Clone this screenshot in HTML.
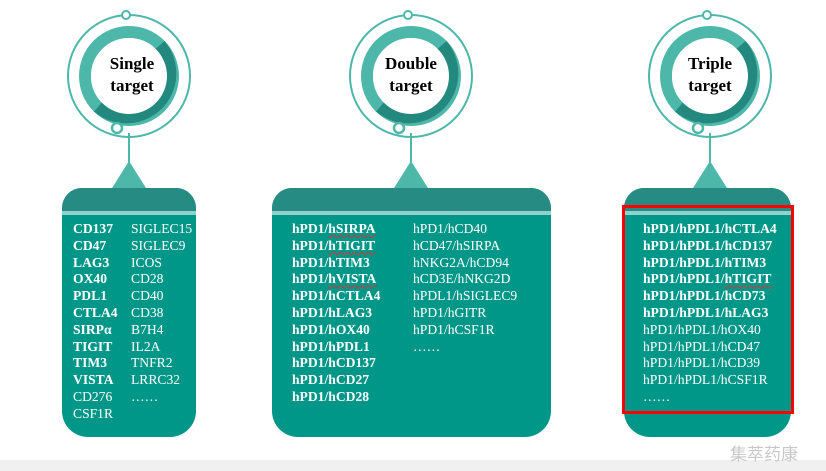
<!DOCTYPE html>
<html><head><meta charset="utf-8"><style>
body{margin:0;width:826px;height:471px;background:#fff;position:relative;overflow:hidden;font-family:"Liberation Serif",serif}
.box{position:absolute;top:188px;height:249px;background:#009688;border-radius:20px 20px 26px 26px;overflow:hidden}
.box .hd{position:absolute;left:0;right:0;top:0;height:23px;background:#268b83}
.box .st{position:absolute;left:0;right:0;top:23px;height:4px;background:#8fd1cb}
.col{position:absolute;top:33px;color:#fff;font-size:13.6px;line-height:16.8px;white-space:nowrap}
.col b{font-weight:bold}
.t{position:absolute;text-align:center;font-weight:bold;font-size:17px;line-height:22px;color:#000;width:100px}
.u{text-decoration:underline wavy #d33;text-decoration-thickness:1px}
</style></head><body>
<div style="position:absolute;left:0;top:460px;width:826px;height:11px;background:#f0f0f0"></div>
<svg width="826" height="200" style="position:absolute;left:0;top:0">
<g>
<circle cx="129" cy="76" r="61" fill="none" stroke="#4db8aa" stroke-width="2"/>
<circle cx="129" cy="76" r="44" fill="none" stroke="#4db8aa" stroke-width="12"/>
<path d="M160 45 A44 44 0 0 1 98 107" fill="none" stroke="#23897f" stroke-width="12"/>
<circle cx="129" cy="76" r="38" fill="#fff"/>
<circle cx="126" cy="15" r="4" fill="#fff" stroke="#4db8aa" stroke-width="2"/>
<circle cx="117" cy="128" r="5" fill="#fff" stroke="#4db8aa" stroke-width="2.5"/>
<line x1="129" y1="133" x2="129" y2="163" stroke="#4db8aa" stroke-width="2"/>
<path d="M129 161 L112 188 L146 188Z" fill="#4db8aa"/>
</g>
<g transform="translate(282,0)">
<circle cx="129" cy="76" r="61" fill="none" stroke="#4db8aa" stroke-width="2"/>
<circle cx="129" cy="76" r="44" fill="none" stroke="#4db8aa" stroke-width="12"/>
<path d="M160 45 A44 44 0 0 1 98 107" fill="none" stroke="#23897f" stroke-width="12"/>
<circle cx="129" cy="76" r="38" fill="#fff"/>
<circle cx="126" cy="15" r="4" fill="#fff" stroke="#4db8aa" stroke-width="2"/>
<circle cx="117" cy="128" r="5" fill="#fff" stroke="#4db8aa" stroke-width="2.5"/>
<line x1="129" y1="133" x2="129" y2="163" stroke="#4db8aa" stroke-width="2"/>
<path d="M129 161 L112 188 L146 188Z" fill="#4db8aa"/>
</g>
<g transform="translate(581,0)">
<circle cx="129" cy="76" r="61" fill="none" stroke="#4db8aa" stroke-width="2"/>
<circle cx="129" cy="76" r="44" fill="none" stroke="#4db8aa" stroke-width="12"/>
<path d="M160 45 A44 44 0 0 1 98 107" fill="none" stroke="#23897f" stroke-width="12"/>
<circle cx="129" cy="76" r="38" fill="#fff"/>
<circle cx="126" cy="15" r="4" fill="#fff" stroke="#4db8aa" stroke-width="2"/>
<circle cx="117" cy="128" r="5" fill="#fff" stroke="#4db8aa" stroke-width="2.5"/>
<line x1="129" y1="133" x2="129" y2="163" stroke="#4db8aa" stroke-width="2"/>
<path d="M129 161 L112 188 L146 188Z" fill="#4db8aa"/>
</g>
</svg>
<div class="t" style="left:82px;top:53px">Single<br>target</div>
<div class="t" style="left:361px;top:53px">Double<br>target</div>
<div class="t" style="left:660px;top:53px">Triple<br>target</div>

<div class="box" style="left:62px;width:134px"><div class="hd"></div><div class="st"></div>
<div class="col" style="left:11px"><b>CD137<br>CD47<br>LAG3<br>OX40<br>PDL1<br>CTLA4<br>SIRPα<br>TIGIT<br>TIM3<br>VISTA</b><br>CD276<br>CSF1R</div>
<div class="col" style="left:69px">SIGLEC15<br>SIGLEC9<br>ICOS<br>CD28<br>CD40<br>CD38<br>B7H4<br>IL2A<br>TNFR2<br>LRRC32<br>……</div>
</div>
<div class="box" style="left:272px;width:279px"><div class="hd"></div><div class="st"></div>
<div class="col" style="left:20px"><b>hPD1/<span class="u">hSIRPA</span><br>hPD1/<span class="u">hTIGIT</span><br>hPD1/hTIM3<br>hPD1/<span class="u">hVISTA</span><br>hPD1/hCTLA4<br>hPD1/hLAG3<br>hPD1/hOX40<br>hPD1/hPDL1<br>hPD1/hCD137<br>hPD1/hCD27<br>hPD1/hCD28</b></div>
<div class="col" style="left:141px">hPD1/hCD40<br>hCD47/hSIRPA<br>hNKG2A/hCD94<br>hCD3E/hNKG2D<br>hPDL1/hSIGLEC9<br>hPD1/hGITR<br>hPD1/hCSF1R<br>……</div>
</div>
<div class="box" style="left:624px;width:167px"><div class="hd"></div><div class="st"></div>
<div class="col" style="left:19px"><b>hPD1/hPDL1/hCTLA4<br>hPD1/hPDL1/hCD137<br>hPD1/hPDL1/hTIM3<br>hPD1/hPDL1/<span class="u">hTIGIT</span><br>hPD1/hPDL1/hCD73<br>hPD1/hPDL1/hLAG3</b><br>hPD1/hPDL1/hOX40<br>hPD1/hPDL1/hCD47<br>hPD1/hPDL1/hCD39<br>hPD1/hPDL1/hCSF1R<br>……</div>
</div>
<div style="position:absolute;left:622px;top:205px;width:166px;height:203px;border:3px solid #f00"></div>
<div style="position:absolute;left:730px;top:440px;color:#c8c8c8;font-family:'Noto Sans CJK SC',sans-serif;font-size:17px">集萃药康</div>
</body></html>
